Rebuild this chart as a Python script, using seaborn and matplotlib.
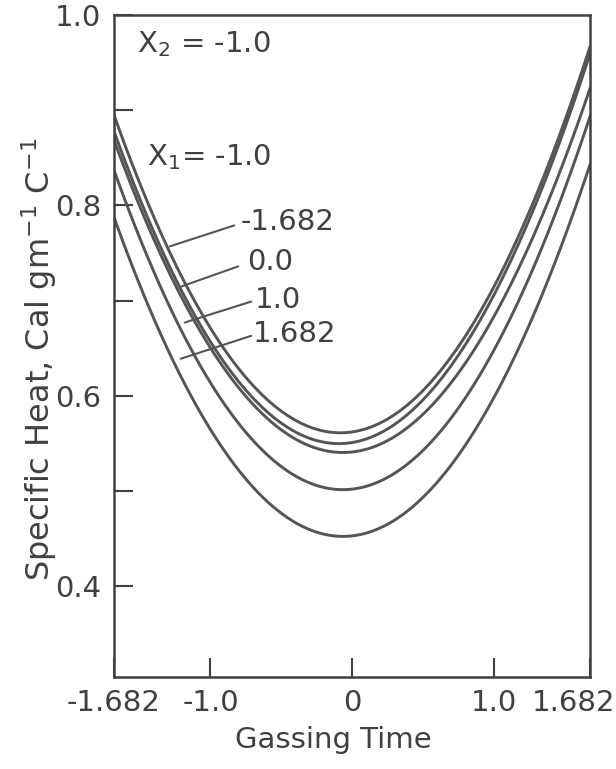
import pandas as pd
import matplotlib
matplotlib.use("Agg")
import matplotlib.pyplot as plt
import matplotlib.transforms as mtransforms
import seaborn as sns

gassing_time = [-1.682, -1.0, 0.0, 1.0, 1.682]

# Specific heat read at those positions, one curve per X1 level
x1_levels = ["-1.0", "-1.682", "0.0", "1.0", "1.682"]
heat_x1_m1 = [0.895, 0.671, 0.562, 0.714, 0.967]
heat_x1_m1682 = [0.878, 0.657, 0.551, 0.705, 0.960]
heat_x1_0 = [0.869, 0.650, 0.541, 0.683, 0.923]
heat_x1_1 = [0.837, 0.614, 0.502, 0.647, 0.894]
heat_x1_1682 = [0.788, 0.564, 0.453, 0.598, 0.843]

x_ticks = [-1.682, -1.0, 0.0, 1.0, 1.682]
x_ticklabels = ["-1.682", "-1.0", "0", "1.0", "1.682"]
y_ticks = [0.4, 0.5, 0.6, 0.7, 0.8, 0.9, 1.0]
y_ticklabels = ["0.4", "", "0.6", "", "0.8", "", "1.0"]

rows = []
for lvl, vals in zip(x1_levels, [heat_x1_m1, heat_x1_m1682, heat_x1_0,
                                 heat_x1_1, heat_x1_1682]):
    for t, v in zip(gassing_time, vals):
        rows.append({"X1": lvl, "time": t, "heat": v})
df = pd.DataFrame(rows)

sns.set_style("ticks")
plt.rcParams["font.family"] = ["DejaVu Sans"]
plt.rcParams["mathtext.default"] = "regular"
plt.rcParams["axes.unicode_minus"] = False

ink = "#404040"
line_col = "#555555"
fs = 21

fig = plt.figure(figsize=(6.16, 7.69), dpi=100)
ax = fig.add_axes([0.185, 0.12, 0.773, 0.8605])

# quadratic response surface curves
for lvl in x1_levels:
    sub = df[df["X1"] == lvl]
    sns.regplot(data=sub, x="time", y="heat", order=2, ci=None,
                scatter=False, truncate=True, ax=ax,
                line_kws={"color": line_col, "lw": 2.1})

ax.set_xlim(-1.682, 1.682)
ax.set_ylim(0.305, 1.0)
ax.set_xticks(x_ticks)
ax.set_xticklabels(x_ticklabels)
ax.set_yticks(y_ticks)
ax.set_yticklabels(y_ticklabels)
ax.tick_params(direction="in", length=14, width=1.5, colors=ink,
               labelsize=fs, pad=9)
for s in ax.spines.values():
    s.set_color(ink)
    s.set_linewidth(1.8)

# nudge the end label so it stays inside the figure
tl = ax.get_xticklabels()
tl[-1].set_transform(tl[-1].get_transform() +
                     mtransforms.ScaledTranslation(-0.17, 0, fig.dpi_scale_trans))

ax.set_xlabel("Gassing Time", fontsize=fs, color=ink)
ax.set_ylabel(r"Specific Heat, Cal gm$^{-1}$ C$^{-1}$", fontsize=23, color=ink)
ax.xaxis.set_label_coords(0.46, -0.075)
ax.yaxis.set_label_coords(-0.115, 0.48)

# labels for the curves
ax.text(-1.52, 0.969, r"X$_2$ = -1.0", fontsize=fs, color=ink, va="center")
ax.text(-1.45, 0.851, r"X$_1$= -1.0", fontsize=fs, color=ink, va="center")

leaders = [("-1.682", (-0.832, 0.779), (-1.287, 0.757), (-0.79, 0.783)),
           ("0.0", (-0.804, 0.736), (-1.203, 0.715), (-0.74, 0.741)),
           ("1.0", (-0.713, 0.699), (-1.182, 0.677), (-0.69, 0.701)),
           ("1.682", (-0.713, 0.663), (-1.210, 0.639), (-0.70, 0.665))]
for txt, start, end, pos in leaders:
    ax.plot([start[0], end[0]], [start[1], end[1]], color=line_col, lw=1.5)
    ax.text(pos[0], pos[1], txt, fontsize=fs, color=ink, va="center")

fig.savefig("out.png", dpi=100)
